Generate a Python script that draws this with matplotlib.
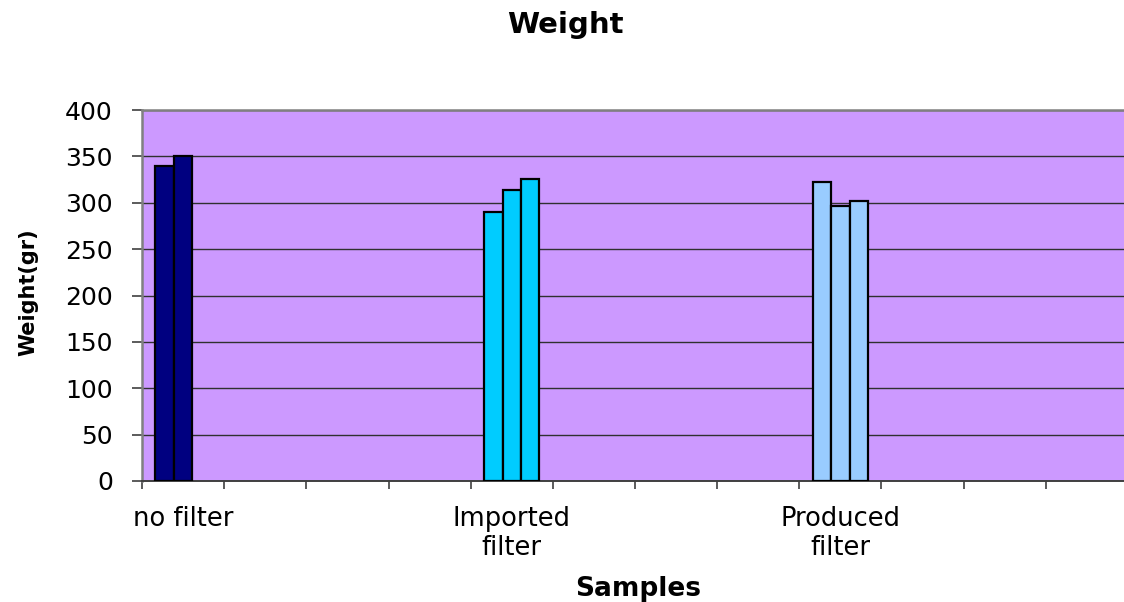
import numpy as np
import matplotlib
matplotlib.use("Agg")
import matplotlib.pyplot as plt

# Category axis: twelve slots, only three of them hold samples
categories = ["no filter", "", "", "", "Imported\nfilter", "", "", "",
              "Produced\nfilter", "", "", ""]

# Three weighings per sample (gr); None = no measurement
run_1 = [340, None, None, None, 290, None, None, None, 322, None, None, None]
run_2 = [350, None, None, None, 314, None, None, None, 297, None, None, None]
run_3 = [None, None, None, None, 326, None, None, None, 302, None, None, None]

# Fill colour per sample category
category_colors = {"no filter": "#000080",
                   "Imported\nfilter": "#00CCFF",
                   "Produced\nfilter": "#99CCFF"}

y_ticks = [0, 50, 100, 150, 200, 250, 300, 350, 400]

plt.rcParams["font.family"] = ["DejaVu Sans"]

fig = plt.figure(figsize=(11.24, 6.02), dpi=100)
fig.patch.set_facecolor("white")
ax = fig.add_axes([142 / 1124, 121 / 602, 986 / 1124, 371 / 602])
ax.set_facecolor("#CC99FF")

series = [run_1, run_2, run_3]
bar_w = 0.225
x = np.arange(len(categories))
for k, values in enumerate(series):
    for i, v in enumerate(values):
        if v is None:
            continue
        ax.bar(x[i] + 0.5 + (k - 1) * bar_w, v, width=bar_w,
               color=category_colors[categories[i]], edgecolor="black",
               linewidth=1.6, zorder=3)

ax.set_xlim(0, len(categories))
ax.set_ylim(0, 400)
ax.set_yticks(y_ticks)
ax.set_yticklabels([str(t) for t in y_ticks], fontsize=18)

# category boundaries carry the tick marks, names sit in the middle
ax.set_xticks(np.arange(len(categories) + 1))
ax.set_xticklabels([])
ax.set_xticks(x + 0.5, minor=True)
ax.set_xticklabels(categories, minor=True, fontsize=18.5, linespacing=1.15)
ax.tick_params(axis="x", which="minor", length=0, pad=18)
ax.tick_params(axis="x", which="major", length=6, width=1.2, color="#404040",
               direction="out")
ax.tick_params(axis="y", length=7, width=1.2, color="#404040", pad=14,
               direction="out")

ax.yaxis.grid(True, color="#303030", linewidth=1.0, zorder=1)
ax.set_axisbelow(True)

for side in ("left", "top", "right"):
    ax.spines[side].set_color("#808080")
    ax.spines[side].set_linewidth(1.8)
ax.spines["bottom"].set_color("#404040")
ax.spines["bottom"].set_linewidth(1.4)

fig.text(565 / 1124, 1 - 25 / 602, "Weight", ha="center", va="center",
         fontsize=21, fontweight="bold")
fig.text(638 / 1124, 13 / 602, "Samples", ha="center", va="center",
         fontsize=19, fontweight="bold")
fig.text(28 / 1124, 1 - 292 / 602, "Weight(gr)", ha="center", va="center",
         rotation=90, fontsize=15, fontweight="bold")

fig.savefig("out.png", dpi=100)
